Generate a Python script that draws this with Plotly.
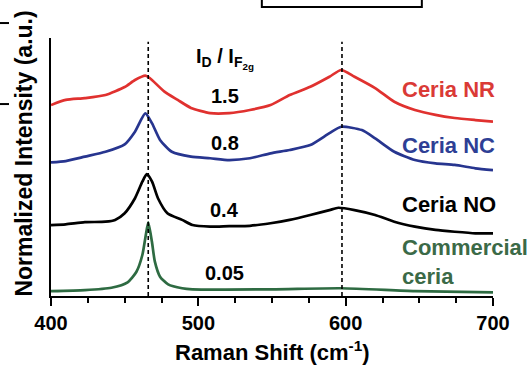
import plotly.graph_objects as go

# ---------------- data ----------------
shift_nr = [400, 410, 423, 437, 450, 457, 464, 467, 477, 486, 495, 508, 521, 535,
            549, 562, 576, 589, 597, 606, 620, 633, 647, 661, 674, 688, 700]
int_nr = [7.40, 7.60, 7.67, 7.79, 8.10, 8.37, 8.54, 8.45, 7.92, 7.60, 7.29, 7.09, 7.09, 7.21,
          7.40, 7.79, 8.11, 8.50, 8.76, 8.50, 8.06, 7.53, 7.21, 7.02, 6.90, 6.82, 6.76]

shift_nc = [400, 410, 423, 437, 450, 457, 464, 468.6, 474, 482, 495, 508, 521, 535,
            549, 562, 576, 589, 597, 611, 620, 633, 647, 661, 674, 688, 700]
int_nc = [5.18, 5.23, 5.40, 5.59, 5.88, 6.37, 7.08, 6.69, 6.05, 5.59, 5.40, 5.34, 5.27, 5.34,
          5.53, 5.66, 5.85, 6.31, 6.56, 6.43, 6.11, 5.59, 5.27, 5.14, 5.08, 4.95, 4.88]

shift_no = [400, 410, 423, 437, 443.5, 450, 457, 462, 465, 468.6, 472.6, 479, 489, 496, 508,
            521, 535, 549, 562, 576, 589, 595, 606, 620, 633, 647, 661, 674, 688, 700]
int_no = [2.75, 2.78, 2.86, 2.88, 2.95, 3.21, 3.79, 4.43, 4.72, 4.43, 3.79, 3.21, 2.95, 2.75, 2.69,
          2.71, 2.72, 2.82, 2.95, 3.14, 3.33, 3.42, 3.33, 3.14, 2.88, 2.69, 2.56, 2.49, 2.43, 2.43]

shift_com = [400, 423, 441, 452, 458, 462, 464, 466, 468.5, 470.5, 474, 479.5, 489, 496,
             550, 597, 647, 700]
int_com = [0.19, 0.23, 0.32, 0.53, 0.94, 1.59, 2.24, 2.85, 2.10, 1.33, 0.75, 0.45, 0.30, 0.26,
           0.26, 0.30, 0.19, 0.14]

sample_names = ["Ceria NR", "Ceria NC", "Ceria NO", "Commercial<br>ceria"]
ratio_labels = ["1.5", "0.8", "0.4", "0.05"]
peak_positions = [466, 597.5]
peak_labels = ["F<sub>2g</sub>", "D"]
x_ticks = [400, 500, 600, 700]

colors = ["#E0312F", "#27358F", "#000000", "#2E6B42"]
text_colors = ["#DA3A36", "#2E3F95", "#000000", "#3B6A47"]

FONT = "Liberation Sans, Arial, sans-serif"

fig = go.Figure()
for xs, ys, c in zip([shift_nr, shift_nc, shift_no, shift_com],
                     [int_nr, int_nc, int_no, int_com], colors):
    fig.add_trace(go.Scatter(x=xs, y=ys, mode="lines",
                             line=dict(color=c, width=2.7, shape="spline", smoothing=0.6),
                             showlegend=False, hoverinfo="skip"))

# dashed reference lines at peak positions
for p in peak_positions:
    fig.add_shape(type="line", xref="x", yref="paper", x0=p, x1=p, y0=0, y1=0.985,
                  line=dict(color="black", width=1.6, dash="4px,3px"))

ann = []
# peak labels
ann.append(dict(x=peak_positions[0], y=10.35, text="<b>" + peak_labels[0] + "</b>",
                xanchor="center", yanchor="middle"))
ann.append(dict(x=peak_positions[1], y=10.31, text="<b>" + peak_labels[1] + "</b>",
                xanchor="center", yanchor="middle"))
ann.append(dict(x=518, y=9.2, text="<b>I<sub>D</sub> / I<sub>F<sub>2g</sub></sub></b>",
                xanchor="center", yanchor="middle"))
# ratio labels
ratio_y = [7.75, 5.93, 3.33, 0.89]
for t, yv in zip(ratio_labels, ratio_y):
    ann.append(dict(x=518, y=yv, text="<b>" + t + "</b>", xanchor="center", yanchor="middle"))
# sample names
name_y = [8.02, 5.85, 3.53, 1.33]
for t, yv, c in zip(sample_names, name_y, text_colors):
    ann.append(dict(x=637.2, y=yv, text="<b>" + t + "</b>", xanchor="left", yanchor="middle",
                    align="left", font=dict(color=c, size=22, family=FONT)))
for a in ann:
    a.setdefault("font", dict(color="black", size=20, family=FONT))
    a["showarrow"] = False
    a["xref"] = "x"
    a["yref"] = "y"

# axis titles
ann.append(dict(xref="paper", yref="paper", x=0.5, y=-0.213, text="<b>Raman Shift (cm<sup>-1</sup>)</b>",
                showarrow=False, xanchor="center", yanchor="middle",
                font=dict(size=22, color="black", family=FONT)))
ann.append(dict(xref="paper", yref="paper", x=-0.061, y=0.552, text="<b>Normalized Intensity (a.u.)</b>",
                showarrow=False, xanchor="center", yanchor="middle", textangle=-90,
                font=dict(size=23, color="black", family=FONT)))

# fragments of neighbouring panels
fig.add_shape(type="rect", xref="paper", yref="paper", x0=0.477, x1=0.839, y0=1.12, y1=1.3,
              line=dict(color="black", width=2))
for yy in [1.058, 0.744]:
    fig.add_shape(type="line", xref="paper", yref="paper", x0=-0.118, x1=-0.095, y0=yy, y1=yy,
                  line=dict(color="black", width=2))

fig.update_layout(
    template="none",
    width=531, height=365,
    margin=dict(l=51, r=38, t=38, b=69, autoexpand=False),
    plot_bgcolor="white", paper_bgcolor="white",
    annotations=ann,
    font=dict(family=FONT, color="black"),
)
fig.update_xaxes(range=[400, 700], showline=True, linecolor="black", linewidth=2,
                 automargin=False,
                 ticks="outside", ticklen=8, tickwidth=2, tickcolor="black",
                 tickvals=x_ticks, ticktext=["<b>%d</b>" % v for v in x_ticks],
                 tickfont=dict(size=20, family=FONT, color="black"),
                 minor=dict(ticks="outside", ticklen=5, tickwidth=2, tickcolor="black", dtick=25),
                 showgrid=False, zeroline=False, mirror=False)
fig.update_yaxes(range=[0, 10], showline=True, linecolor="black", linewidth=2,
                 automargin=False,
                 showticklabels=False, ticks="", showgrid=False, zeroline=False)

fig.write_html("out.html", config={"displayModeBar": False},
               post_script="document.body.style.margin='0';")
